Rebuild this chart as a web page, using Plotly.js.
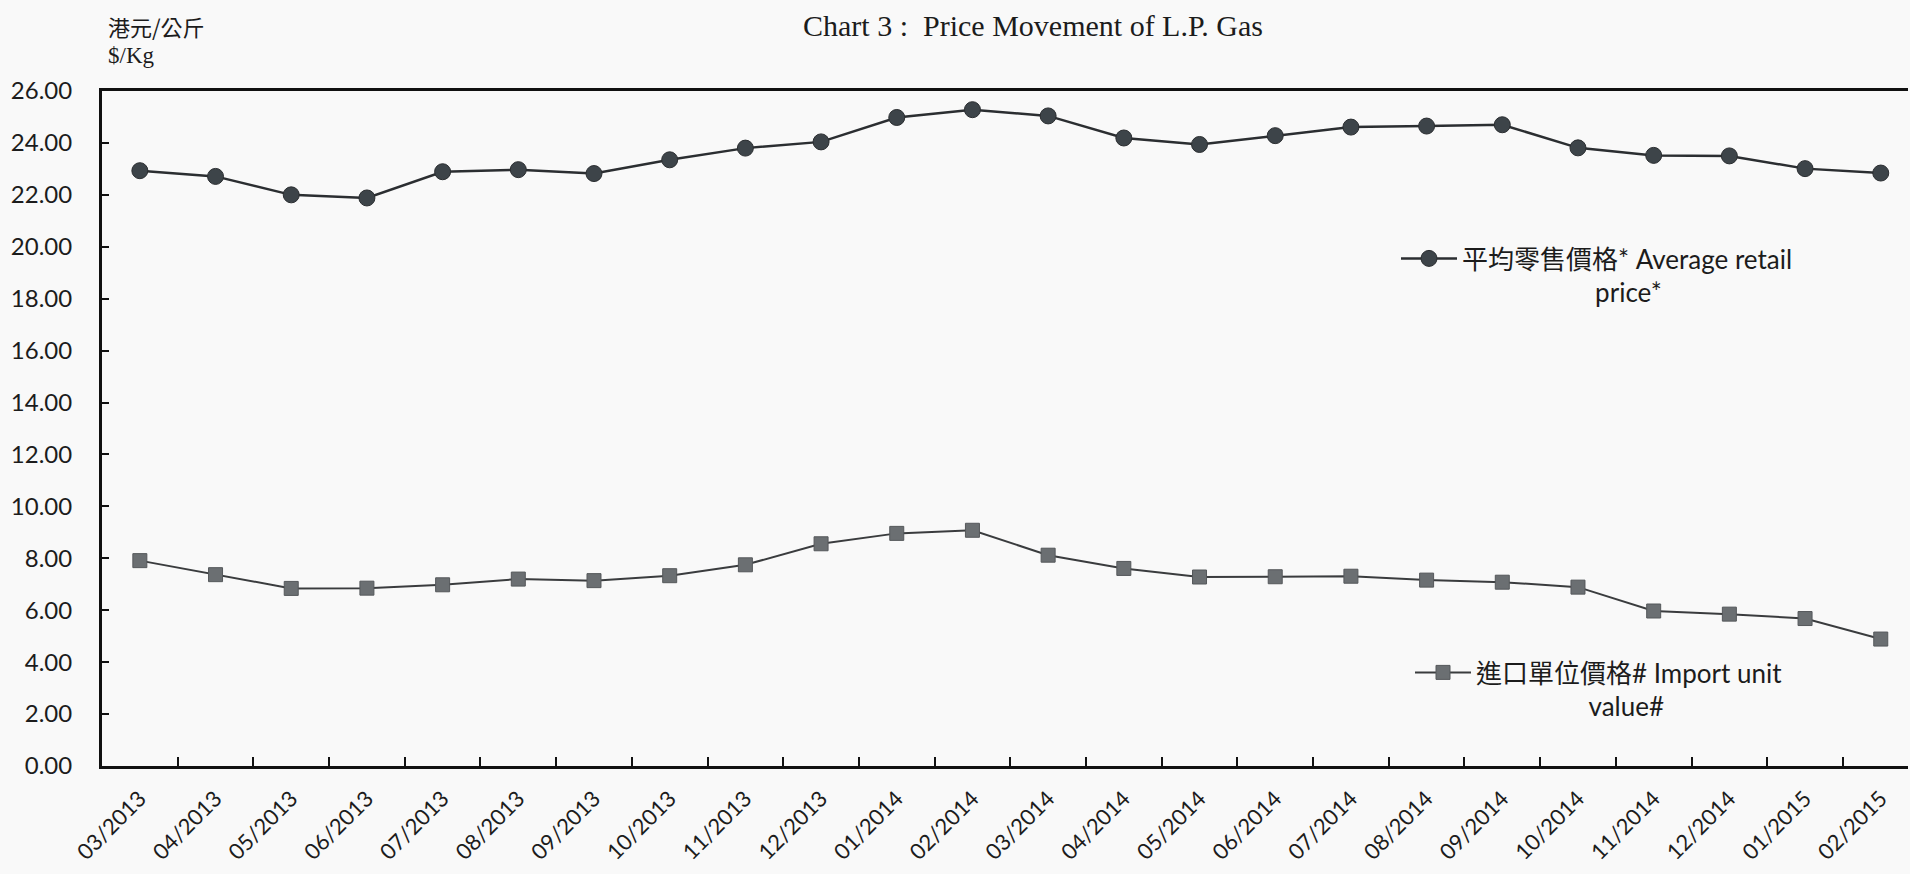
<!DOCTYPE html>
<html>
<head>
<meta charset="utf-8">
<script src="https://cdn.plot.ly/plotly-3.0.1.min.js"></script>
<style>
html, body { margin: 0; padding: 0; background: #f9f9f9; }
#chart { width: 1910px; height: 874px; }
</style>
</head>
<body>
<div id="chart"></div>
<script>
// ---- Data ----
const months = ["03/2013", "04/2013", "05/2013", "06/2013", "07/2013", "08/2013",
  "09/2013", "10/2013", "11/2013", "12/2013", "01/2014", "02/2014",
  "03/2014", "04/2014", "05/2014", "06/2014", "07/2014", "08/2014",
  "09/2014", "10/2014", "11/2014", "12/2014", "01/2015", "02/2015"];

const averageRetailPrice = [22.93, 22.71, 22.00, 21.88, 22.89, 22.97, 22.82, 23.35,
  23.80, 24.04, 24.98, 25.28, 25.04, 24.19, 23.94, 24.28, 24.61, 24.65,
  24.70, 23.81, 23.52, 23.50, 23.01, 22.84];

const importUnitValue = [7.91, 7.37, 6.84, 6.85, 6.98, 7.20, 7.14, 7.33,
  7.75, 8.56, 8.96, 9.08, 8.12, 7.61, 7.28, 7.29, 7.31, 7.16,
  7.08, 6.89, 5.97, 5.85, 5.68, 4.89];

const yTickValues = [0, 2, 4, 6, 8, 10, 12, 14, 16, 18, 20, 22, 24, 26];

const retailName = "平均零售價格* Average retail<br>" + "\u00a0".repeat(20) + "price*";
const importName = "進口單位價格# Import unit<br>" + "\u00a0".repeat(17) + "value#";
const chartTitle = "Chart 3\u00a0:\u00a0\u00a0Price Movement of L.P. Gas";
const unitCN = "港元/公斤";
const unitEN = "$/Kg";

// ---- Traces ----
const traces = [
  {
    type: "scatter", mode: "lines+markers",
    x: months, y: averageRetailPrice, name: retailName,
    line: { color: "#2b2e31", width: 2.5 },
    marker: { symbol: "circle", size: 16, color: "#3d4449", line: { color: "#2b2e31", width: 1 } },
    legend: "legend"
  },
  {
    type: "scatter", mode: "lines+markers",
    x: months, y: importUnitValue, name: importName,
    line: { color: "#3a3c3e", width: 2 },
    marker: { symbol: "square", size: 14, color: "#6b6f72", line: { color: "#55585b", width: 1 } },
    legend: "legend2"
  }
];

const sansFont = "Lato, 'Noto Sans CJK TC', 'Noto Sans', sans-serif";

const layout = {
  width: 1910, height: 874,
  paper_bgcolor: "#f9f9f9", plot_bgcolor: "#f9f9f9",
  margin: { l: 102, r: 2, t: 91, b: 108 },
  font: { family: sansFont, color: "#1c1c1c", size: 22 },
  title: {
    text: chartTitle,
    font: { family: "'Liberation Serif', 'Times New Roman', serif", size: 30, color: "#1c1c1c" },
    x: 1033 / 1910, xanchor: "center", xref: "container",
    y: 1 - 25 / 874, yanchor: "middle", yref: "container"
  },
  xaxis: {
    type: "category",
    range: [-0.5, 23.36],
    showline: true, linecolor: "#111", linewidth: 3,
    mirror: true,
    ticks: "inside", tickson: "boundaries", ticklen: 9, tickwidth: 2, tickcolor: "#111",
    tickangle: -45,
    tickfont: { family: sansFont, size: 22, color: "#1c1c1c" },
    ticklabelstandoff: 8,
    showgrid: false, zeroline: false, fixedrange: true
  },
  yaxis: {
    range: [0, 26],
    tickvals: yTickValues,
    tickformat: ".2f",
    showline: true, linecolor: "#111", linewidth: 3,
    mirror: false,
    ticks: "inside", ticklen: 7, tickwidth: 2, tickcolor: "#111",
    tickfont: { family: sansFont, size: 24, color: "#1c1c1c" },
    ticklabelstandoff: 22,
    showgrid: false, zeroline: false, fixedrange: true
  },
  legend: {
    x: (1396 - 102) / 1806, xanchor: "left",
    y: (766 - 235) / 675, yanchor: "top",
    bgcolor: "rgba(0,0,0,0)", borderwidth: 0,
    font: { family: sansFont, size: 26, color: "#1c1c1c" },
    itemwidth: 56, valign: "top"
  },
  legend2: {
    x: (1410 - 102) / 1806, xanchor: "left",
    y: (766 - 649) / 675, yanchor: "top",
    bgcolor: "rgba(0,0,0,0)", borderwidth: 0,
    font: { family: sansFont, size: 26, color: "#1c1c1c" },
    itemwidth: 56, valign: "top"
  },
  showlegend: true,
  annotations: [
    {
      text: unitCN, xref: "paper", yref: "paper",
      x: (106 - 102) / 1806, xanchor: "left",
      y: (766 - 26) / 675, yanchor: "middle",
      showarrow: false,
      font: { family: "'Noto Sans CJK TC', sans-serif", size: 22, color: "#1c1c1c" }
    },
    {
      text: unitEN, xref: "paper", yref: "paper",
      x: (106 - 102) / 1806, xanchor: "left",
      y: (766 - 55) / 675, yanchor: "middle",
      showarrow: false,
      font: { family: "'Liberation Serif', serif", size: 23, color: "#1c1c1c" }
    }
  ]
};

Plotly.newPlot("chart", traces, layout, { displayModeBar: false, staticPlot: true });
</script>
</body>
</html>
